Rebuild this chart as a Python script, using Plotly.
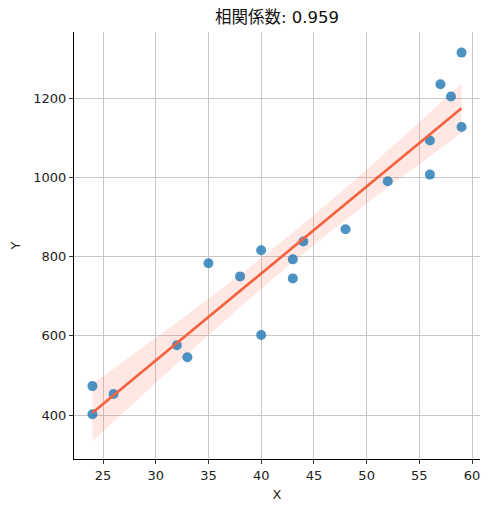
import numpy as np
import plotly.graph_objects as go

# Data
x_vals = [24, 24, 26, 32, 33, 35, 38, 40, 40, 43, 43, 44, 48, 52, 56, 56, 57, 58, 59, 59]
y_vals = [473, 402, 453, 576, 546, 783, 750, 816, 602, 793, 745, 838, 869, 990, 1093, 1007, 1235, 1204, 1127, 1315]
title_text = "相関係数: 0.959"
x_ticks = [25, 30, 35, 40, 45, 50, 55, 60]
y_ticks = [400, 600, 800, 1000, 1200]

x = np.array(x_vals, dtype=float)
y = np.array(y_vals, dtype=float)

# Linear regression with 95% confidence band
slope, intercept = np.polyfit(x, y, 1)
xg = np.linspace(x.min(), x.max(), 100)
yg = slope * xg + intercept
n = len(x)
resid = y - (slope * x + intercept)
s = np.sqrt(np.sum(resid ** 2) / (n - 2))
t_val = 2.101  # t(0.975, 18)
se = s * np.sqrt(1 / n + (xg - x.mean()) ** 2 / np.sum((x - x.mean()) ** 2))
upper = yg + t_val * se
lower = yg - t_val * se

font = "DejaVu Sans, Noto Sans CJK JP, sans-serif"

fig = go.Figure()
fig.add_trace(go.Scatter(
    x=np.concatenate([xg, xg[::-1]]), y=np.concatenate([upper, lower[::-1]]),
    fill="toself", fillcolor="rgba(255,99,71,0.15)", line=dict(width=0),
    hoverinfo="skip", showlegend=False))
fig.add_trace(go.Scatter(
    x=x, y=y, mode="markers",
    marker=dict(color="rgba(31,119,180,0.8)", size=10, line=dict(width=0)),
    showlegend=False))
fig.add_trace(go.Scatter(
    x=xg, y=yg, mode="lines", line=dict(color="#f4623f", width=2.7),
    showlegend=False))

axis_common = dict(
    showgrid=True, gridcolor="#c8c8c8", gridwidth=0.8,
    showline=True, linecolor="black", linewidth=1.2,
    ticks="outside", ticklen=4, tickcolor="#333333", tickwidth=1,
    zeroline=False, tickfont=dict(size=13, color="#222222", family=font),
    title_font=dict(size=13, color="#222222", family=font),
    mirror=False, automargin=False,
)

fig.update_layout(
    width=482, height=504,
    margin=dict(l=66, r=10, t=24, b=53),
    paper_bgcolor="white", plot_bgcolor="white",
    title=dict(text=title_text, x=0.5, xanchor="center", xref="paper",
               yref="container", y=1 - 9 / 504, yanchor="middle",
               font=dict(size=16.5, color="#111111", family=font)),
    xaxis=dict(range=[22.25, 60.75], tickvals=x_ticks, title=dict(text="X", standoff=8), **axis_common),
    yaxis=dict(range=[289, 1367], tickvals=y_ticks, title=dict(text="Y", standoff=13), **axis_common),
    font=dict(family=font),
)

fig.write_html("out.html")
